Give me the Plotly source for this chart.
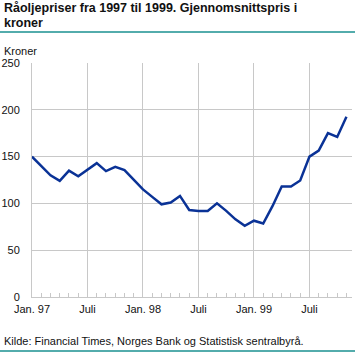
import plotly.graph_objects as go

months = list(range(35))
prices = [150, 140, 130, 124, 135, 129, 136, 143, 134.5, 139, 135.5, 125,
          115, 107, 99, 101, 108, 93, 92, 92, 100, 92, 83, 76,
          81.5, 78.5, 97, 118, 118, 124.5, 150, 156.5, 175, 171, 192.5]
tick_vals = [0, 6, 12, 18, 24, 30]
tick_text = ["Jan. 97", "Juli", "Jan. 98", "Juli", "Jan. 99", "Juli"]
y_ticks = [0, 50, 100, 150, 200, 250]

W, H = 355, 357
PL, PR, PT, PB = 32, 352, 63, 297  # plot area in pixels
RULES_Y = [32, 351]                # decorative teal rules (pixel rows)


def px(x):
    return x / W


def py(y):
    return 1 - y / H


font = "Liberation Sans, Arial, sans-serif"
teal = "#1a9090"
grid = "#c8c8c8"
txt = "#111111"

fig = go.Figure()
fig.add_trace(go.Scatter(x=months, y=prices, mode="lines",
                         line=dict(color="#0a3296", width=2.5),
                         hoverinfo="skip", showlegend=False, cliponaxis=False))

# decorative rules drawn on a full-figure overlay axis
for yy in RULES_Y:
    fig.add_trace(go.Scatter(x=[0, W], y=[yy, yy], mode="lines",
                             line=dict(color=teal, width=1.5),
                             xaxis="x2", yaxis="y2", hoverinfo="skip",
                             showlegend=False, cliponaxis=False))

fig.update_layout(
    width=W, height=H, autosize=False,
    margin=dict(l=0, r=0, t=0, b=0, pad=0),
    paper_bgcolor="white", plot_bgcolor="rgba(0,0,0,0)",
    font=dict(family=font, size=11, color=txt),
    xaxis=dict(domain=[px(PL), px(PR)], range=[0, 34.6],
               tickvals=tick_vals, ticktext=tick_text,
               showgrid=True, gridcolor=grid, gridwidth=1,
               showline=True, linecolor=grid, linewidth=1,
               ticks="inside", ticklen=5, tickcolor=grid,
               minor=dict(dtick=1, tick0=0, ticks="inside", ticklen=4,
                          tickcolor=grid, showgrid=False),
               zeroline=False, fixedrange=True, automargin=False,
               ticklabelstandoff=2,
               tickfont=dict(size=11)),
    yaxis=dict(domain=[py(PB), py(PT)], range=[0, 250], tickvals=y_ticks,
               showgrid=True, gridcolor=grid, gridwidth=1,
               showline=True, linecolor=grid, linewidth=1,
               zeroline=False, ticks="", ticklabelstandoff=9,
               automargin=False,
               tickfont=dict(size=11), fixedrange=True),
    xaxis2=dict(domain=[0, 1], range=[0, W], visible=False,
                anchor="y2", fixedrange=True),
    yaxis2=dict(domain=[0, 1], range=[H, 0], visible=False,
                anchor="x2", fixedrange=True),
)

fig.add_annotation(xref="paper", yref="paper", x=px(2), y=py(8),
                   xanchor="left", yanchor="middle", align="left", showarrow=False,
                   text="<b>Råoljepriser fra 1997 til 1999. Gjennomsnittspris i</b>",
                   font=dict(size=12.5, family=font, color=txt))
fig.add_annotation(xref="paper", yref="paper", x=px(2), y=py(23),
                   xanchor="left", yanchor="middle", align="left", showarrow=False,
                   text="<b>kroner</b>",
                   font=dict(size=12.5, family=font, color=txt))
fig.add_annotation(xref="paper", yref="paper", x=px(2), y=py(51),
                   xanchor="left", yanchor="middle", showarrow=False,
                   text="Kroner", font=dict(size=11, family=font, color=txt))
fig.add_annotation(xref="paper", yref="paper", x=px(2), y=py(341),
                   xanchor="left", yanchor="middle", showarrow=False,
                   text="Kilde: Financial Times, Norges Bank og Statistisk sentralbyrå.",
                   font=dict(size=11, family=font, color=txt))

fig.write_html("out.html",
               config={"displayModeBar": False, "staticPlot": True},
               post_script="document.body.style.margin='0';document.body.style.padding='0';document.body.style.overflow='hidden';")
